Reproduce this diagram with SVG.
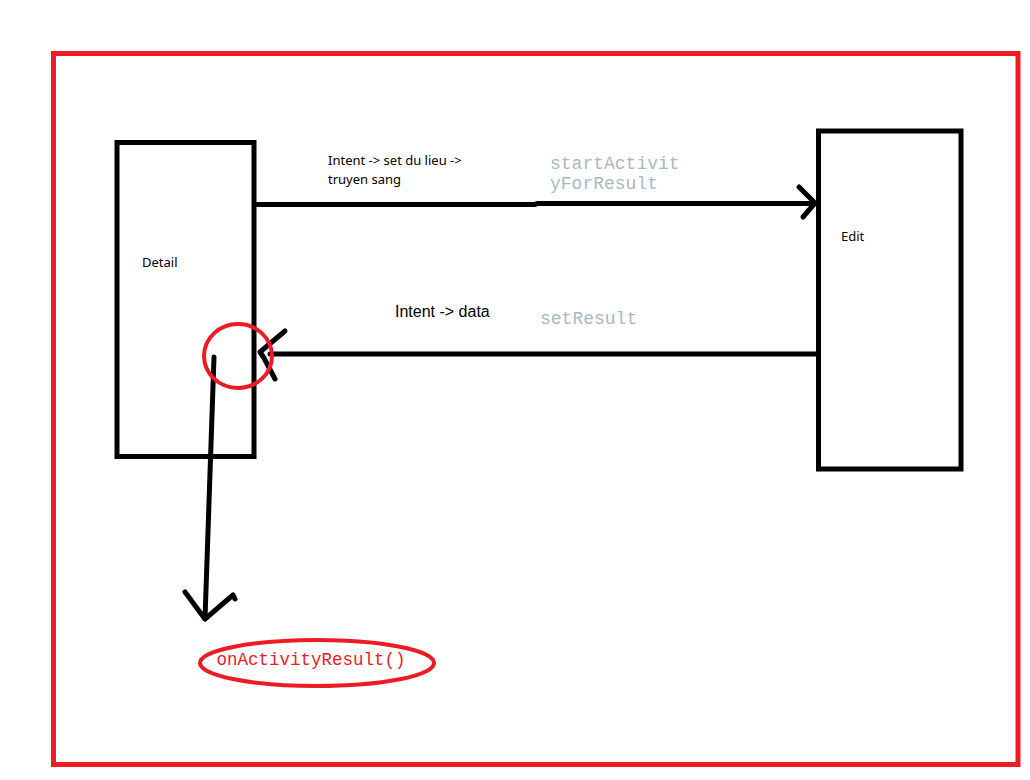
<svg xmlns="http://www.w3.org/2000/svg" width="1030" height="780" viewBox="0 0 1030 780">
  <style>
    .frame { fill: none; stroke: #ED1C24; stroke-width: 5; }
    .box { fill: #FFFFFF; stroke: #000000; stroke-width: 5; }
    .wire { fill: none; stroke: #000000; stroke-width: 5; stroke-linecap: round; stroke-linejoin: round; }
    .mark { fill: none; stroke: #ED1C24; stroke-width: 4; }
    .ui { font-family: "Noto Sans", "Open Sans", sans-serif; font-size: 13px; fill: #000000; }
    .label { font-family: "Liberation Sans", Arial, sans-serif; font-size: 16px; fill: #000000; }
    .code { font-family: "Liberation Mono", "Courier New", monospace; font-size: 18px; fill: #A9B7C6; }
    .code-red { font-family: "Liberation Mono", "Courier New", monospace; font-size: 17.5px; fill: #ED1C24; }
  </style>
  <rect width="1030" height="780" fill="#FFFFFF"/>

  <!-- outer frame -->
  <rect class="frame" x="53.5" y="53.5" width="964.5" height="711"/>

  <g id="detail">
    <rect class="box" x="117" y="142.5" width="137" height="314"/>
    <text class="ui" x="142" y="266.5">Detail</text>
  </g>

  <g id="edit">
    <rect class="box" x="818.5" y="131" width="142.5" height="338"/>
    <text class="ui" x="841" y="240.5">Edit</text>
  </g>

  <g id="connectors">
    <!-- Detail -> Edit -->
    <polyline class="wire" points="256,204.5 535,204.5 537,203.5 815,203.5"/>
    <polyline class="wire" points="799,187 815,203 803,217"/>
    <!-- Edit -> Detail -->
    <line class="wire" x1="270" y1="354" x2="816" y2="354"/>
    <polyline class="wire" points="285,331 260,352 264,358 275,379"/>
    <!-- Detail -> onActivityResult -->
    <line class="wire" x1="214" y1="357" x2="205" y2="619"/>
    <polyline class="wire" points="185,592 205,619 233,595 235,599"/>
  </g>

  <g id="labels">
    <text class="ui" x="328" y="165">Intent -&gt; set du lieu -&gt;</text>
    <text class="ui" x="328" y="183.5">truyen sang</text>
    <text class="code" x="550" y="168.5">startActivit</text>
    <text class="code" x="550" y="188.5">yForResult</text>
    <text class="label" x="395" y="316.5">Intent -&gt; data</text>
    <text class="code" x="540" y="323.5">setResult</text>
  </g>

  <g id="callback-mark">
    <ellipse class="mark" cx="238" cy="356" rx="34" ry="32"/>
  </g>

  <g id="onActivityResult">
    <ellipse class="mark" cx="317" cy="663" rx="117" ry="23"/>
    <text class="code-red" x="216.5" y="665">onActivityResult()</text>
  </g>
</svg>
